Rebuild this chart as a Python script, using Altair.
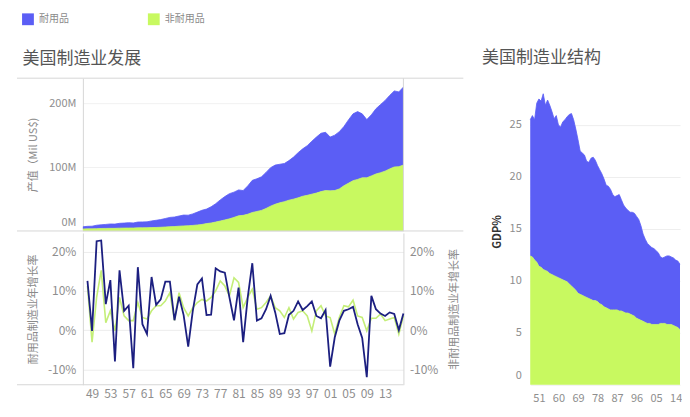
import altair as alt
import pandas as pd

FONT = "Noto Sans CJK SC"

# ---------------- data ----------------
categories = ["耐用品", "非耐用品"]
area_colors = ["#5b5ef5", "#c8f960"]
line_durable_color = "#1c1f80"
line_nondurable_color = "#c4ee78"

# US manufacturing output (M), 1947-2017
output_years = list(range(1947, 2018))
output_durable = [
    3.5, 4.0, 4.2, 5.4, 5.8, 6.3, 6.9, 6.7, 7.6, 7.9, 8.4,
    8.0, 9.1, 9.2, 9.2, 10.5, 11.3, 12.1, 13.4, 14.6, 15.0,
    16.0, 17.1, 16.6, 18.1, 20.2, 22.3, 22.8, 25.5, 28.8, 33.2,
    36.7, 39.6, 39.7, 40.7, 39.0, 44.5, 50.5, 51.4, 52.7, 56.7,
    60.5, 61.5, 60.6, 60.0, 62.2, 66.0, 71.0, 74.5, 78.0, 83.2,
    88.0, 91.7, 91.5, 84.5, 87.0, 90.0, 93.0, 99.5, 105.0, 106.5,
    100.5, 91.5, 96.0, 102.5, 107.0, 111.0, 115.5, 119.5, 117.5, 122.5,
]
output_nondurable = [
    3.0, 3.3, 3.3, 3.6, 3.9, 4.0, 4.1, 4.1, 4.4, 4.5, 4.6,
    4.6, 4.9, 5.0, 5.1, 5.3, 5.5, 5.8, 6.2, 6.7, 6.9,
    7.5, 7.9, 8.2, 8.7, 9.4, 10.2, 11.6, 12.5, 14.0, 15.6,
    17.3, 19.0, 21.3, 23.8, 24.5, 26.3, 29.0, 30.6, 32.3, 35.3,
    39.0, 42.0, 44.2, 46.0, 48.3, 50.0, 52.0, 54.5, 56.0, 57.8,
    59.5, 61.8, 63.5, 63.0, 63.5, 66.0, 71.0, 75.0, 79.0, 81.0,
    83.5, 83.5, 86.5, 89.5, 91.5, 94.0, 97.5, 100.5, 101.0, 103.5,
]

# annual growth rate (%), 1948-2017
growth_years = list(range(1948, 2018))
growth_durable = [
    12.5, -0.2, 22.6, 22.8, 6.6, 12.7, -8.0, 15.2, 4.9, 6.2,
    -9.7, 16.0, 1.5, -1.0, 13.5, 6.4, 7.8, 12.3, 12.3, 2.5,
    8.5, 3.8, -4.2, 4.9, 11.6, 13.1, 3.8, 3.9, 15.7, 14.9,
    14.6, 8.3, 2.5, 10.8, -3.1, 8.3, 17.0, 2.4, 3.0, 5.3,
    8.7, 4.5, -1.0, -0.8, 3.9, 4.9, 7.3, 5.1, 6.1, 7.3,
    3.6, 3.0, 5.1, -9.3, -1.9, 2.4, 4.9, 5.3, 5.9, 1.5,
    -2.0, -12.0, 8.7, 5.3, 4.2, 3.6, 4.5, 4.1, 0.0, 4.2,
]
growth_nondurable = [
    11.2, -3.1, 8.3, 15.2, 1.9, 4.9, -0.2, 8.3, 3.6, 2.4,
    2.4, 7.0, 3.2, 2.8, 4.9, 6.2, 6.2, 7.4, 9.5, 2.5,
    9.5, 5.7, 3.6, 5.7, 7.0, 7.8, 7.4, 8.3, 10.0, 12.5,
    11.2, 8.7, 13.3, 12.1, 5.7, 8.3, 10.4, 5.3, 5.7, 7.0,
    8.7, 5.7, 4.9, 3.2, 5.7, 2.8, 4.5, 4.9, 3.6, -0.2,
    4.9, 6.2, 3.6, 3.2, -1.0, 3.2, 6.2, 5.9, 7.6, 3.6,
    3.2, -0.2, 3.0, 3.0, 4.1, 2.4, 2.8, 3.2, -1.0, 3.6,
]

# manufacturing share of GDP (%), 1947-2016
gdp_years = list(range(1947, 2017))
gdp_durable = [
    13.1, 13.6, 13.5, 15.3, 16.1, 16.0, 16.9, 15.9, 16.5, 16.2,
    15.7, 15.1, 15.5, 14.7, 14.6, 15.2, 15.5, 15.9, 16.3, 16.6,
    16.2, 15.5, 14.8, 13.8, 13.7, 13.6, 13.1, 13.1, 13.6, 13.8,
    13.5, 13.1, 12.9, 12.6, 12.3, 11.8, 11.8, 11.6, 11.1, 10.9,
    11.0, 11.2, 10.7, 10.3, 10.1, 9.9, 9.8, 9.9, 9.9, 9.8,
    9.6, 9.1, 8.4, 8.0, 7.7, 7.5, 7.4, 7.3, 7.1, 6.9,
    6.4, 6.3, 6.4, 6.6, 6.6, 6.5, 6.5, 6.4, 6.4, 6.3,
]
gdp_nondurable = [
    12.4, 12.3, 12.0, 11.8, 11.4, 11.3, 11.1, 11.0, 10.9, 10.7,
    10.6, 10.5, 10.4, 10.3, 10.2, 10.1, 10.0, 9.9, 9.7, 9.5,
    9.3, 9.1, 8.8, 8.7, 8.6, 8.5, 8.4, 8.3, 8.2, 8.1,
    8.1, 8.0, 7.8, 7.7, 7.5, 7.4, 7.3, 7.2, 7.2, 7.2,
    7.2, 7.1, 7.1, 7.0, 6.9, 6.9, 6.8, 6.7, 6.6, 6.4,
    6.3, 6.2, 6.1, 6.0, 5.9, 5.9, 5.8, 5.8, 5.8, 5.8,
    5.9, 5.9, 5.9, 5.8, 5.8, 5.8, 5.7, 5.6, 5.5, 5.3,
]

output_ticks = [0, 100, 200]
growth_ticks = [-10, 0, 10, 20]
gdp_ticks = [0, 5, 10, 15, 20, 25]
growth_year_ticks = list(range(1949, 2014, 4))
gdp_year_ticks = list(range(1951, 2015, 9))

# ---------------- tables ----------------
def long_table(years, dur, nondur):
    rows = []
    for y, d, n in zip(years, dur, nondur):
        rows.append({"year": y, "type": categories[1], "value": n, "ord": 0})
        rows.append({"year": y, "type": categories[0], "value": d, "ord": 1})
    return pd.DataFrame(rows)

df_out = long_table(output_years, output_durable, output_nondurable)
df_gdp = long_table(gdp_years, gdp_durable, gdp_nondurable)
df_growth = pd.DataFrame({"year": growth_years, "dur": growth_durable, "nondur": growth_nondurable})
df_one = pd.DataFrame({"k": [0]})
df_legend = pd.DataFrame({"type": categories})

color_scale = alt.Scale(domain=categories, range=area_colors)
LINE_GREY = "#d6d6d6"
LABEL = "#8e8e8e"

W, H_UP, H_LOW = 321, 153, 152

# ---------------- legend row ----------------
legend_x = alt.X("type:N", scale=alt.Scale(domain=categories, range=[-55, 71], padding=0), axis=None)
leg_sq = alt.Chart(df_legend).mark_square(size=140, opacity=1).encode(
    x=legend_x,
    y=alt.value(10),
    color=alt.Color("type:N", scale=color_scale, legend=None),
)
leg_tx = alt.Chart(df_legend).mark_text(align="left", baseline="middle", dx=11, fontSize=10,
                                        color="#8a8a8a", font=FONT).encode(
    x=legend_x,
    y=alt.value(10),
    text="type:N",
)
legend_row = alt.layer(leg_sq, leg_tx).properties(width=200, height=20)

# ---------------- upper: output ----------------
x_year = alt.Scale(domain=[1947, 2017], nice=False, zero=False)

upper_area = alt.Chart(df_out).mark_area(
    line={"color": "#2d306e", "strokeWidth": 0.8}, opacity=1
).encode(
    x=alt.X("year:Q", scale=x_year, axis=None),
    y=alt.Y("value:Q", stack="zero", scale=alt.Scale(domain=[0, 240], nice=False),
            axis=alt.Axis(values=output_ticks, labelExpr="datum.value + 'M'",
                          title="产值（Mil US$)", grid=True, gridColor="#f1f1f1",
                          domain=True, domainColor=LINE_GREY, ticks=False,
                          labelPadding=7, labelFlush=True, labelFlushOffset=-3,
                          minExtent=36, maxExtent=36, titlePadding=8)),
    color=alt.Color("type:N", scale=color_scale, legend=None),
    order=alt.Order("ord:Q"),
)
rule_top = alt.Chart(df_one).mark_rule(color=LINE_GREY, strokeWidth=1).encode(
    x=alt.value(-66), x2=alt.value(381), y=alt.value(0))
rule_mid = alt.Chart(df_one).mark_rule(color=LINE_GREY, strokeWidth=1).encode(
    x=alt.value(-66), x2=alt.value(381), y=alt.value(H_UP))
rule_right_up = alt.Chart(df_one).mark_rule(color=LINE_GREY, strokeWidth=1).encode(
    x=alt.value(W), y=alt.value(0), y2=alt.value(H_UP))
upper = alt.layer(upper_area, rule_top, rule_mid, rule_right_up).properties(width=W, height=H_UP)

# ---------------- lower: growth ----------------
g_scale = alt.Scale(domain=[-13.9, 24.7], nice=False)
x_axis_growth = alt.Axis(values=growth_year_ticks, labelExpr="substring(toString(datum.value), 2)",
                         title=None, grid=False, ticks=False, domain=False,
                         labelPadding=4, labelFontSize=12)

line_nd = alt.Chart(df_growth).mark_line(color=line_nondurable_color, strokeWidth=1.6).encode(
    x=alt.X("year:Q", scale=x_year, axis=x_axis_growth),
    y=alt.Y("nondur:Q", scale=g_scale,
            axis=alt.Axis(orient="right", values=growth_ticks, labelExpr="datum.value + '%'",
                          title="非耐用品制造业年增长率", titleAngle=270, grid=False,
                          domain=True, domainColor=LINE_GREY, ticks=False, labelPadding=6,
                          labelFontSize=12, minExtent=36, maxExtent=36, titlePadding=20)),
)
line_d = alt.Chart(df_growth).mark_line(color=line_durable_color, strokeWidth=1.8).encode(
    x=alt.X("year:Q", scale=x_year, axis=x_axis_growth),
    y=alt.Y("dur:Q", scale=g_scale,
            axis=alt.Axis(orient="left", values=growth_ticks, labelExpr="datum.value + '%'",
                          title="耐用品制造业年增长率", grid=True, gridColor="#ececec",
                          domain=True, domainColor=LINE_GREY, ticks=False, labelPadding=7,
                          labelFontSize=12, minExtent=36, maxExtent=36, titlePadding=8)),
)
rule_bottom = alt.Chart(df_one).mark_rule(color=LINE_GREY, strokeWidth=1).encode(
    x=alt.value(-66), x2=alt.value(W), y=alt.value(H_LOW))
lower = alt.layer(line_nd, line_d, rule_bottom).resolve_scale(y="independent").properties(
    width=W, height=H_LOW)

left = alt.vconcat(upper, lower, spacing=1).properties(
    title=alt.TitleParams("美国制造业发展", anchor="start", dx=6, offset=10))

# ---------------- right: GDP share ----------------
right = alt.Chart(df_gdp).mark_area(
    line={"color": "#2d306e", "strokeWidth": 0.8}, opacity=1
).encode(
    x=alt.X("year:Q", scale=alt.Scale(domain=[1947, 2016], nice=False, zero=False),
            axis=alt.Axis(values=gdp_year_ticks, labelExpr="substring(toString(datum.value), 2)",
                          title=None, grid=False, ticks=False, domain=False, labelPadding=8)),
    y=alt.Y("value:Q", stack="zero", scale=alt.Scale(domain=[0, 29.5], nice=False),
            axis=alt.Axis(values=gdp_ticks, title="GDP%", titleFontWeight="bold",
                          titleColor="#333333", grid=True, gridColor="#eeeeee",
                          domain=False, ticks=False, labelPadding=9, labelFlush=True,
                          labelFlushOffset=-4, titlePadding=7)),
    color=alt.Color("type:N", scale=color_scale, legend=None),
    order=alt.Order("ord:Q"),
).properties(width=150, height=307,
             title=alt.TitleParams("美国制造业结构", anchor="start", dx=-9, offset=11))

body = alt.hconcat(left, right, spacing=17)

chart = alt.vconcat(legend_row, body, spacing=20).properties(
    padding={"left": 8, "top": 1, "right": 0, "bottom": 0}
).configure_view(stroke=None).configure_axis(
    labelFont=FONT, titleFont=FONT, labelColor=LABEL, titleColor="#8a8a8a",
    labelFontSize=11, titleFontSize=11, titleFontWeight="normal",
).configure_title(font=FONT, fontSize=17, color="#555555", fontWeight="normal")

chart.save("out.html", embed_options={"renderer": "svg", "actions": False})
